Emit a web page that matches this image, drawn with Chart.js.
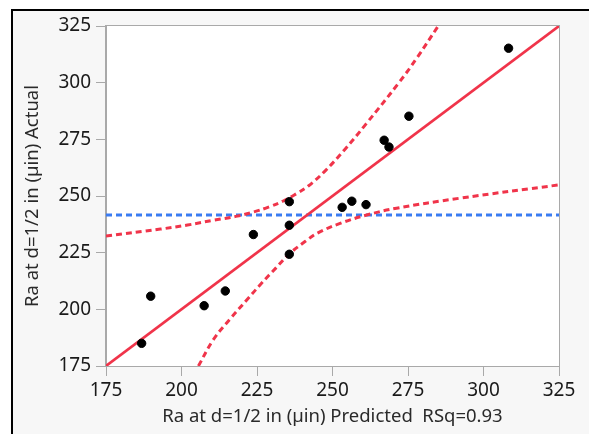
<!DOCTYPE html>
<html>
<head>
<meta charset="utf-8">
<script src="https://cdn.jsdelivr.net/npm/chart.js@4.4.1/dist/chart.umd.min.js"></script>
<style>
  body { margin: 0; background: #fff; }
  #frame {
    position: absolute; left: 11px; top: 9px; width: 600px; height: 460px;
    border-left: 2px solid #000; border-top: 2px solid #000; background: #f7f7f7;
  }
  #wrap { position: absolute; left: 0; top: 0; width: 589px; height: 434px; }
</style>
</head>
<body>
<div id="frame"></div>
<div id="wrap"><canvas id="chart" width="589" height="434"></canvas></div>
<script>
// observations: predicted vs actual Ra
const predicted = [186.8, 189.8, 207.5, 214.5, 223.8, 235.7, 235.7, 235.7, 253.2, 256.4, 261.1, 267.1, 268.7, 275.3, 308.3];
const actual    = [185.0, 205.8, 201.6, 208.1, 233.0, 224.3, 237.1, 247.5, 245.0, 247.7, 246.2, 274.6, 271.6, 285.2, 315.2];

// fit line (actual = predicted) and mean of actual
const fitX = [175, 325];
const fitY = [175, 325];
const meanActual = 241.6;

// confidence curves
const upperX = [175, 193, 202, 211, 218, 224, 229, 233.7, 238, 242, 247.5, 254, 261, 272, 278, 285];
const upperY = [232.3, 235.4, 237.2, 239.4, 241, 243, 245.2, 247.8, 251, 254.4, 261, 270.4, 281.6, 300, 311, 325];
const lowerX = [205.6, 210.5, 216, 221.6, 226.5, 231.3, 236, 241, 245, 252.5, 261.3, 271.2, 292, 325];
const lowerY = [175, 186.5, 195.6, 204.1, 211.5, 218.3, 224.8, 230, 233.6, 237.9, 241.6, 244.6, 249, 254.9];

const ticks = [175, 200, 225, 250, 275, 300, 325];

const red = '#f0344a';
const blue = '#3b7cf2';
const toXY = (xs, ys) => xs.map((x, i) => ({ x: x, y: ys[i] }));

const plotFrame = {
  id: 'plotFrame',
  beforeDraw(chart) {
    const a = chart.chartArea, ctx = chart.ctx;
    ctx.save();
    ctx.fillStyle = '#fff';
    ctx.fillRect(a.left, a.top, a.right - a.left, a.bottom - a.top);
    ctx.restore();
  },
  afterDraw(chart) {
    const a = chart.chartArea, ctx = chart.ctx;
    ctx.save();
    ctx.strokeStyle = '#a9a9a9';
    ctx.lineWidth = 1;
    ctx.strokeRect(a.left - 0.5, a.top - 0.5, a.right - a.left + 1, a.bottom - a.top + 1);
    ctx.restore();
  }
};

const tickFont = { family: "'Segoe UI', 'Noto Sans', sans-serif", size: 19 };
const titleFont = { family: "'Segoe UI', 'Noto Sans', sans-serif", size: 18.5 };

const dashed = {
  type: 'line',
  borderColor: red,
  borderWidth: 3,
  borderDash: [6, 4],
  tension: 0.4,
  pointRadius: 0
};

new Chart(document.getElementById('chart'), {
  type: 'scatter',
  data: {
    datasets: [
      {
        label: 'Actual',
        data: toXY(predicted, actual),
        backgroundColor: '#000',
        borderColor: '#000',
        pointRadius: 4.2,
        order: 0
      },
      {
        label: 'Fit',
        type: 'line',
        data: toXY(fitX, fitY),
        borderColor: red,
        borderWidth: 2.6,
        pointRadius: 0,
        order: 1
      },
      Object.assign({ label: 'Upper', data: toXY(upperX, upperY), order: 2 }, dashed),
      Object.assign({ label: 'Lower', data: toXY(lowerX, lowerY), order: 3 }, dashed),
      {
        label: 'Mean',
        type: 'line',
        data: toXY([175, 325], [meanActual, meanActual]),
        borderColor: blue,
        borderWidth: 3,
        borderDash: [6, 4],
        pointRadius: 0,
        order: 4
      }
    ]
  },
  options: {
    responsive: false,
    animation: false,
    layout: { padding: { top: 26, right: 30, left: 0, bottom: 0 } },
    plugins: { legend: { display: false }, tooltip: { enabled: false } },
    scales: {
      x: {
        min: 175, max: 325,
        afterBuildTicks: s => { s.ticks = ticks.map(v => ({ value: v })); },
        afterFit: s => { s.height = 68; },
        grid: { drawOnChartArea: false, tickLength: 10, color: '#a9a9a9' },
        border: { color: '#a9a9a9' },
        ticks: { color: '#1a1a1a', font: tickFont, padding: 3, maxRotation: 0 },
        title: {
          display: true, text: 'Ra at d=1/2 in (\u00b5in) Predicted  RSq=0.93',
          color: '#2a2a2a', font: titleFont, padding: { top: 0, bottom: 6 }
        }
      },
      y: {
        min: 175, max: 325,
        afterBuildTicks: s => { s.ticks = ticks.map(v => ({ value: v })); },
        afterFit: s => { s.width = 106; },
        grid: { drawOnChartArea: false, tickLength: 10, color: '#a9a9a9' },
        border: { color: '#a9a9a9' },
        ticks: { color: '#1a1a1a', font: tickFont, padding: 5 },
        title: {
          display: true, text: 'Ra at d=1/2 in (\u00b5in) Actual',
          color: '#2a2a2a', font: titleFont, padding: { top: 22, bottom: 0 }
        }
      }
    }
  },
  plugins: [plotFrame]
});
</script>
</body>
</html>
